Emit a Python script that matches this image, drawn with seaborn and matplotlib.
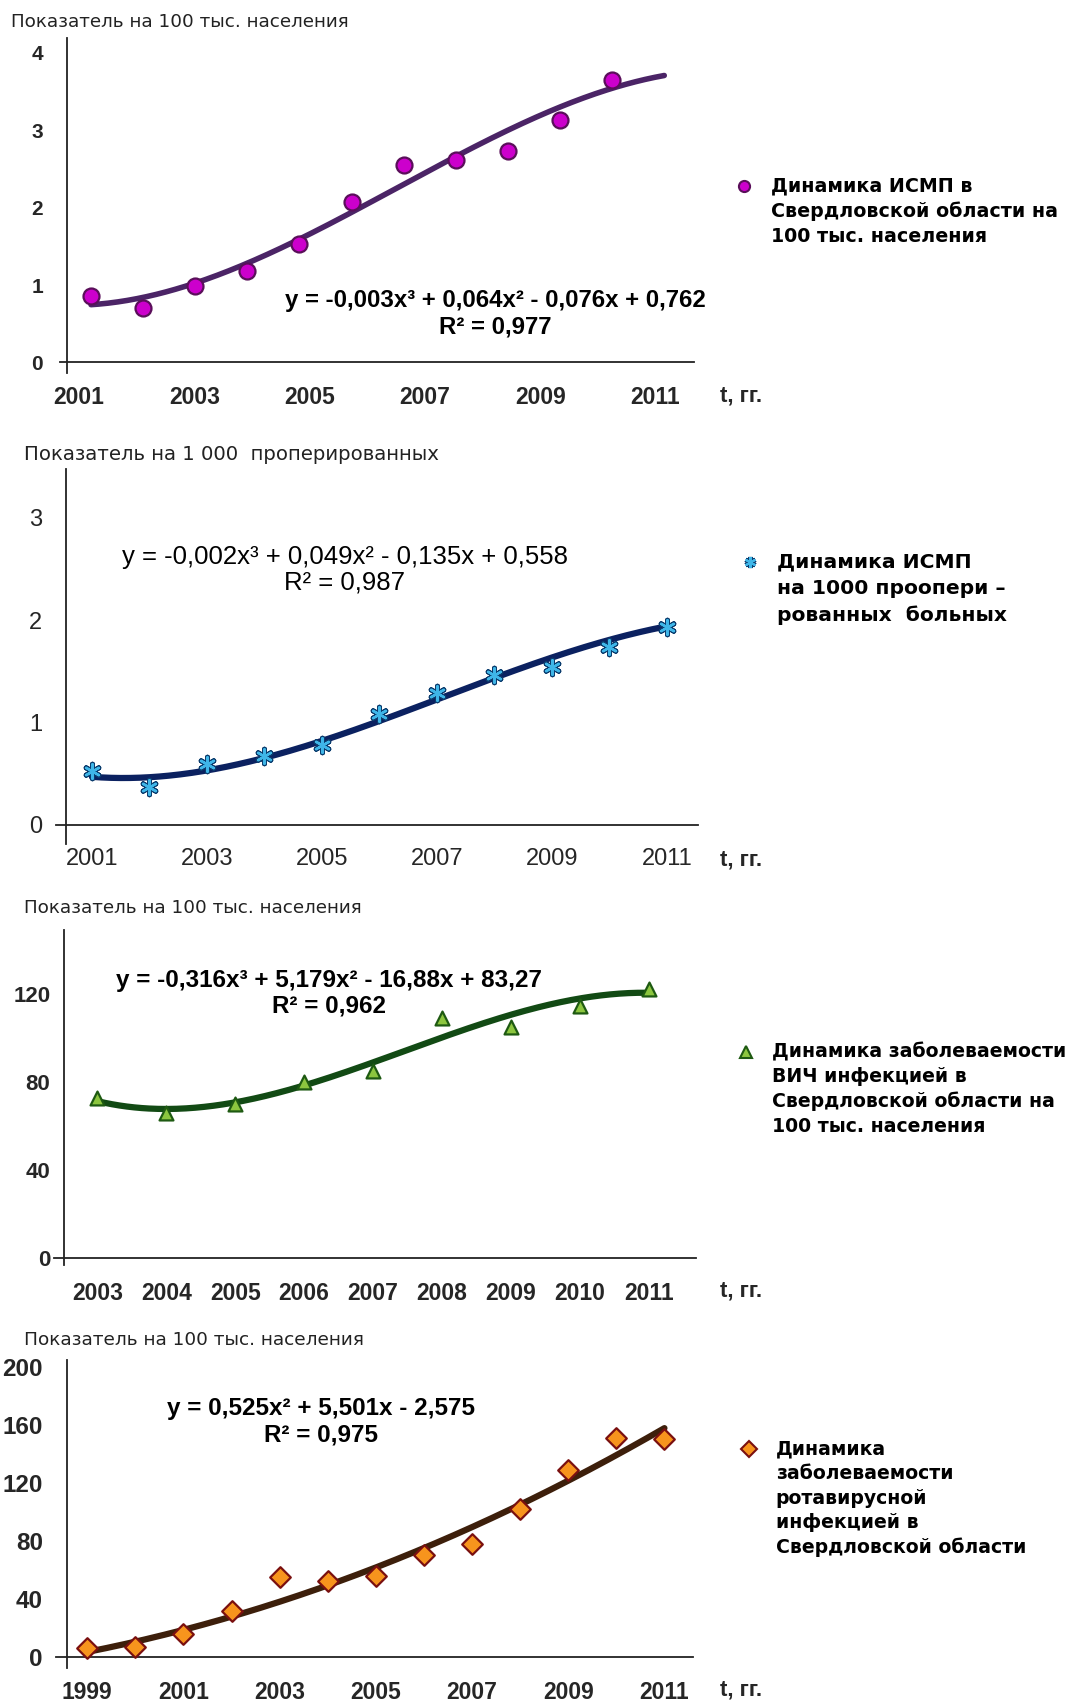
import numpy as np
import pandas as pd
import matplotlib
matplotlib.use("Agg")
import matplotlib.pyplot as plt
from matplotlib.lines import Line2D
import seaborn as sns

# ---------------- data ----------------
# Panel 1: ISMP incidence per 100 thousand population (Sverdlovsk region)
ismp_pop_years = [2001, 2002, 2003, 2004, 2005, 2006, 2007, 2008, 2009, 2010, 2011]
ismp_pop_values = [0.86, 0.70, 0.99, 1.18, 1.53, 2.08, 2.55, 2.62, 2.73, 3.13, 3.65]
ismp_pop_trend = [-0.0031, 0.064, -0.076, 0.762]      # cubic, highest power first
ismp_pop_eq = "y = -0,003x³ + 0,064x² - 0,076x + 0,762"
ismp_pop_r2 = "R² = 0,977"
ismp_pop_xticklabels = ["2001", "2003", "2005", "2007", "2009", "2011"]
ismp_pop_yticks = [0, 1, 2, 3, 4]

# Panel 2: ISMP per 1000 operated patients
ismp_op_years = [2001, 2002, 2003, 2004, 2005, 2006, 2007, 2008, 2009, 2010, 2011]
ismp_op_values = [0.53, 0.37, 0.59, 0.67, 0.78, 1.08, 1.29, 1.46, 1.54, 1.74, 1.93]
ismp_op_trend = [-0.0023, 0.049, -0.135, 0.558]
ismp_op_eq = "y = -0,002x³ + 0,049x² - 0,135x + 0,558"
ismp_op_r2 = "R² = 0,987"
ismp_op_xticklabels = ["2001", "2003", "2005", "2007", "2009", "2011"]
ismp_op_yticks = [0, 1, 2, 3]

# Panel 3: HIV incidence per 100 thousand population
hiv_years = [2003, 2004, 2005, 2006, 2007, 2008, 2009, 2010, 2011]
hiv_values = [72.5, 66, 70, 80, 85, 109, 105, 114.5, 122]
hiv_trend = [-0.316, 5.179, -16.88, 83.27]
hiv_eq = "y = -0,316x³ + 5,179x² - 16,88x + 83,27"
hiv_r2 = "R² = 0,962"
hiv_xticklabels = ["2003", "2004", "2005", "2006", "2007", "2008", "2009", "2010", "2011"]
hiv_yticks = [0, 40, 80, 120]

# Panel 4: rotavirus infection incidence per 100 thousand population
rota_years = [1999, 2000, 2001, 2002, 2003, 2004, 2005, 2006, 2007, 2008, 2009, 2010, 2011]
rota_values = [6, 7, 16, 32, 55, 52, 56, 70, 78, 102, 129, 151, 150]
rota_trend = [0.525, 5.501, -2.575]                  # quadratic
rota_eq = "y = 0,525x² + 5,501x - 2,575"
rota_r2 = "R² = 0,975"
rota_xticklabels = ["1999", "2001", "2003", "2005", "2007", "2009", "2011"]
rota_yticks = [0, 40, 80, 120, 160, 200]

titles = ["Показатель на 100 тыс. населения",
          "Показатель на 1 000  проперированных",
          "Показатель на 100 тыс. населения",
          "Показатель на 100 тыс. населения"]

legend_texts = [
    ["Динамика ИСМП в", "Свердловской области на", "100 тыс. населения"],
    ["Динамика ИСМП", "на 1000 проопери –", "рованных  больных"],
    ["Динамика заболеваемости", "ВИЧ инфекцией в", "Свердловской области на", "100 тыс. населения"],
    ["Динамика", "заболеваемости", "ротавирусной", "инфекцией в", "Свердловской области"],
]

# ---------------- style ----------------
sns.set_style("white")
plt.rcParams["font.family"] = ["Liberation Sans", "DejaVu Sans"]

W, H = 1070, 1702
fig = plt.figure(figsize=(W / 100, H / 100), dpi=100)
fig.patch.set_facecolor("white")


def frect(left, top, right, bottom):
    return [left / W, 1 - bottom / H, (right - left) / W, (bottom - top) / H]


def fx(px):
    return px / W


def fy(py):
    return 1 - py / H


panels = [
    dict(years=ismp_pop_years, values=ismp_pop_values, trend=ismp_pop_trend, t_end=12,
         eq=ismp_pop_eq, r2=ismp_pop_r2, xticklabels=ismp_pop_xticklabels,
         label_pos=list(np.linspace(0.77, 11.83, 6)), tick_pos=[2.5, 4.5, 6.5, 8.5, 10.5, 12.5],
         yticks=ismp_pop_yticks, yminor=[],
         rect=(60, 38.3, 694.5, 373.3), xlim=(0.405, 12.58), ylim=(-0.14, 4.19), cross=0.53,
         marker="o", ms=11.5, mfc="#CC00CC", mec="#5A0F5A", line="#4B2466", lw=4.0,
         xl_weight="bold", yl_weight="bold", yl_size=15, yl_pad=17, yl_family=None,
         xl_size=16.5, xtick_dir="in",
         eq_xy=(495, 300.6), eq_weight="bold", eq_size=17.3,
         title_xy=(11, 21.7), title_size=13.2, t_y=396,
         leg_xy=(744, 186), leg_dy=25, leg_size=13.7),
    dict(years=ismp_op_years, values=ismp_op_values, trend=ismp_op_trend, t_end=11,
         eq=ismp_op_eq, r2=ismp_op_r2, xticklabels=ismp_op_xticklabels,
         label_pos=[1, 3, 5, 7, 9, 11], tick_pos=[2.5, 4.5, 6.5, 8.5, 10.5],
         yticks=ismp_op_yticks, yminor=[],
         rect=(56, 468.8, 697.9, 844.3), xlim=(0.376, 11.54), ylim=(-0.19, 3.48), cross=0.545,
         marker=(6, 2, 0), ms=10.5, mfc="#3FB6E8", mec="#1C9BD6", line="#0B2160", lw=4.5,
         xl_weight="normal", yl_weight="normal", yl_size=17, yl_pad=17, yl_family=None,
         xl_size=17, xtick_dir="inout",
         eq_xy=(344.6, 556.7), eq_weight="normal", eq_size=18.5,
         title_xy=(24, 454.7), title_size=14.2, t_y=859.5,
         leg_xy=(750, 562), leg_dy=26.5, leg_size=14.6),
    dict(years=hiv_years, values=hiv_values, trend=hiv_trend, t_end=9,
         eq=hiv_eq, r2=hiv_r2, xticklabels=hiv_xticklabels,
         label_pos=list(range(1, 10)), tick_pos=[1.5, 2.5, 3.5, 4.5, 5.5, 6.5, 7.5, 8.5, 9.5],
         yticks=hiv_yticks, yminor=[20, 60, 100, 140],
         rect=(54.2, 930, 695.6, 1264.6), xlim=(0.374, 9.68), ylim=(-3, 149), cross=0.52,
         marker="^", ms=10, mfc="#8CC63F", mec="#1E5A12", line="#124A14", lw=4.5,
         xl_weight="bold", yl_weight="bold", yl_size=16, yl_pad=10,
         yl_family=["Liberation Sans Narrow", "Liberation Sans"],
         xl_size=16.5, xtick_dir="inout",
         eq_xy=(329.4, 980), eq_weight="bold", eq_size=17.5,
         title_xy=(24, 908.3), title_size=13.2, t_y=1291,
         leg_xy=(745.5, 1051.6), leg_dy=25, leg_size=13.6),
    dict(years=rota_years, values=rota_values, trend=rota_trend, t_end=13,
         eq=rota_eq, r2=rota_r2, xticklabels=rota_xticklabels,
         label_pos=[1, 3, 5, 7, 9, 11, 13], tick_pos=[2.5, 4.5, 6.5, 8.5, 10.5, 12.5],
         yticks=rota_yticks, yminor=[],
         rect=(56, 1360, 693.3, 1668), xlim=(0.351, 13.6), ylim=(-7.6, 204.6), cross=0.57,
         marker="D", ms=10.5, mfc="#F7941D", mec="#7A1010", line="#3D1F0B", lw=4.5,
         xl_weight="bold", yl_weight="bold", yl_size=17.5, yl_pad=17, yl_family=None,
         xl_size=16.5, xtick_dir="out",
         eq_xy=(320.7, 1408.6), eq_weight="bold", eq_size=17.5,
         title_xy=(24, 1340), title_size=13.3, t_y=1690,
         leg_xy=(748.8, 1448.7), leg_dy=24.7, leg_size=13.6),
]

for i, p in enumerate(panels):
    ax = fig.add_axes(frect(*p["rect"]))
    ax.set_facecolor("none")

    # period index 1..n, as used by the trend equation
    n = len(p["values"])
    df = pd.DataFrame({"t": np.arange(1, n + 1), "value": p["values"], "year": p["years"]})

    t_fine = np.linspace(1, p["t_end"], 300)
    trend = pd.DataFrame({"t": t_fine, "fit": np.polyval(p["trend"], t_fine)})

    sns.lineplot(data=trend, x="t", y="fit", ax=ax, color=p["line"], lw=p["lw"],
                 zorder=2, legend=False)
    if i == 1:
        # star markers are line-only: a dark navy stroke under a light-blue one
        sns.scatterplot(data=df, x="t", y="value", ax=ax, marker=p["marker"],
                        s=p["ms"] ** 2, color="#0B3D6E", linewidth=3.6, zorder=2.9,
                        legend=False)
        sns.scatterplot(data=df, x="t", y="value", ax=ax, marker=p["marker"],
                        s=p["ms"] ** 2, color=p["mfc"], linewidth=1.7, zorder=3.1,
                        legend=False)
    else:
        sns.scatterplot(data=df, x="t", y="value", ax=ax, marker=p["marker"],
                        s=p["ms"] ** 2, color=p["mfc"], edgecolor=p["mec"],
                        linewidth=1.6, zorder=3, legend=False)

    ax.set_xlim(*p["xlim"])
    ax.set_ylim(*p["ylim"])
    ax.set_xlabel("")
    ax.set_ylabel("")

    for side in ("top", "right"):
        ax.spines[side].set_visible(False)
    ax.spines["left"].set_position(("data", p["cross"]))
    ax.spines["bottom"].set_position(("data", 0))
    for side in ("left", "bottom"):
        ax.spines[side].set_color("#222222")
        ax.spines[side].set_linewidth(1.3)

    ax.set_xticks(p["label_pos"])
    ax.set_xticklabels(p["xticklabels"], fontsize=p["xl_size"], fontweight=p["xl_weight"])
    ax.set_xticks(p["tick_pos"], minor=True)
    ax.tick_params(axis="x", which="major", length=0, pad=17)
    ax.tick_params(axis="x", which="minor", length=5, width=1.3, color="#222222",
                   direction=p["xtick_dir"])

    ax.set_yticks(p["yticks"])
    ylabel_kw = dict(fontsize=p["yl_size"], fontweight=p["yl_weight"])
    if p["yl_family"]:
        ylabel_kw["family"] = p["yl_family"]
    ax.set_yticklabels([str(v) for v in p["yticks"]], **ylabel_kw)
    if p["yminor"]:
        ax.set_yticks(p["yminor"], minor=True)
    ax.tick_params(axis="y", which="both", length=5.5, width=1.3, color="#222222",
                   direction="in", pad=p["yl_pad"])
    ax.tick_params(axis="y", which="minor", labelleft=False)

    # trend equation and R²
    ex, ey = p["eq_xy"]
    fig.text(fx(ex), fy(ey), p["eq"], ha="center", va="center",
             fontsize=p["eq_size"], fontweight=p["eq_weight"], color="black")
    fig.text(fx(ex), fy(ey + 26), p["r2"], ha="center", va="center",
             fontsize=p["eq_size"], fontweight=p["eq_weight"], color="black")

    # axis captions
    tx, ty = p["title_xy"]
    fig.text(fx(tx), fy(ty), titles[i], ha="left", va="center", fontsize=p["title_size"],
             family=["DejaVu Sans"], color="#222222")
    fig.text(fx(720), fy(p["t_y"]), "t, гг.", ha="left", va="center",
             fontsize=16, fontweight="bold")

    # legend key and caption
    lx, ly = p["leg_xy"]
    if i == 1:
        fig.add_artist(Line2D([fx(lx)], [fy(ly)], marker=p["marker"], ms=8,
                              color="#0B3D6E", mew=3.2, ls="none", transform=fig.transFigure))
        fig.add_artist(Line2D([fx(lx)], [fy(ly)], marker=p["marker"], ms=8,
                              color=p["mfc"], mew=1.5, ls="none", transform=fig.transFigure))
    else:
        fig.add_artist(Line2D([fx(lx)], [fy(ly)], marker=p["marker"], ms=8,
                              mfc=p["mfc"], mec=p["mec"], mew=1.5, ls="none",
                              transform=fig.transFigure))
    for j, line in enumerate(legend_texts[i]):
        fig.text(fx(lx + 27), fy(ly + j * p["leg_dy"]), line, ha="left", va="center",
                 fontsize=p["leg_size"], fontweight="bold", family=["DejaVu Sans"],
                 color="black")

fig.savefig("out.png", dpi=100, facecolor="white")
